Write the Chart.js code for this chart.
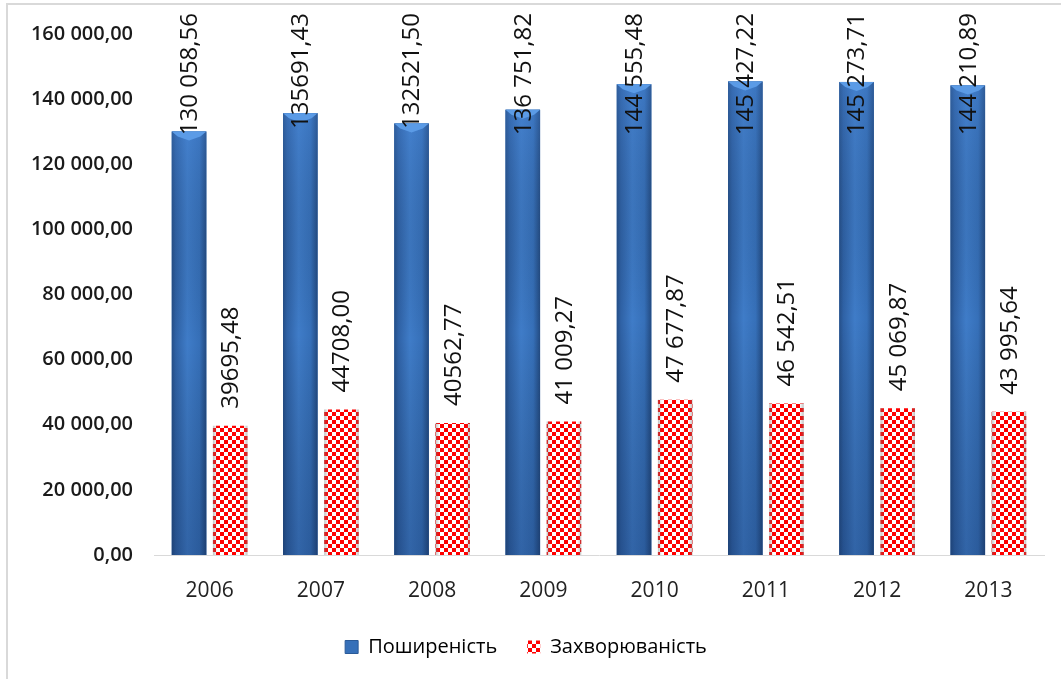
<!DOCTYPE html>
<html>
<head>
<meta charset="utf-8">
<script src="https://cdn.jsdelivr.net/npm/chart.js@4/dist/chart.umd.min.js"></script>
<style>
    html, body { margin: 0; padding: 0; background: #fff; }
    #wrap { width: 1061px; height: 679px; position: relative; }
</style>
</head>
<body>
<div id="wrap"><canvas id="chart"></canvas></div>
<script>
// Data
const years = ['2006', '2007', '2008', '2009', '2010', '2011', '2012', '2013'];
const prevalence = [130058.56, 135691.43, 132521.50, 136751.82, 144555.48, 145427.22, 145273.71, 144210.89];
const incidence = [39695.48, 44708.00, 40562.77, 41009.27, 47677.87, 46542.51, 45069.87, 43995.64];
const prevalenceLabels = ['130 058,56', '135691,43', '132521,50', '136 751,82', '144 555,48', '145 427,22', '145 273,71', '144 210,89'];
const incidenceLabels = ['39695,48', '44708,00', '40562,77', '41 009,27', '47 677,87', '46 542,51', '45 069,87', '43 995,64'];
const yTickValues = [0, 20000, 40000, 60000, 80000, 100000, 120000, 140000, 160000];
const yTickLabels = ['0,00', '20 000,00', '40 000,00', '60 000,00', '80 000,00', '100 000,00', '120 000,00', '140 000,00', '160 000,00'];
const seriesNames = ['Поширеність', 'Захворюваність'];

const FONT = "'Open Sans', sans-serif";

// red / white checkerboard used for the second series
function makeChecker() {
    const c = document.createElement('canvas');
    c.width = 8; c.height = 8;
    const g = c.getContext('2d');
    g.fillStyle = '#ffffff';
    g.fillRect(0, 0, 8, 8);
    g.fillStyle = '#ff0000';
    g.fillRect(0, 0, 4, 4);
    g.fillRect(4, 4, 4, 4);
    return g.createPattern(c, 'repeat');
}
const checker = makeChecker();

// frame lines (left + top) like the cropped chart border
const framePlugin = {
    id: 'frame',
    beforeDraw(chart) {
        const ctx = chart.ctx;
        ctx.save();
        ctx.fillStyle = '#d9d9d9';
        ctx.fillRect(6, 3, 2, chart.height);
        ctx.fillRect(6, 3, chart.width, 2);
        ctx.restore();
    }
};

// 3D-ish shading on top of the plain bars
const shadePlugin = {
    id: 'shade',
    afterDatasetDraw(chart, args) {
        const ctx = chart.ctx;
        const meta = args.meta;
        ctx.save();
        meta.data.forEach(bar => {
            const w = bar.width, l = bar.x - w / 2, r = bar.x + w / 2;
            const top = bar.y, bot = bar.base;
            if (args.index === 0) {
                const hg = ctx.createLinearGradient(l, 0, r, 0);
                hg.addColorStop(0, '#254f88');
                hg.addColorStop(0.12, '#2f62a6');
                hg.addColorStop(0.45, '#3f7cc8');
                hg.addColorStop(0.8, '#3670b9');
                hg.addColorStop(1, '#234b82');
                ctx.fillStyle = hg;
                ctx.fillRect(l, top, w, bot - top);
                const vg = ctx.createLinearGradient(0, top, 0, bot);
                vg.addColorStop(0, 'rgba(80,140,220,0.25)');
                vg.addColorStop(0.5, 'rgba(0,0,0,0)');
                vg.addColorStop(1, 'rgba(10,30,70,0.25)');
                ctx.fillStyle = vg;
                ctx.fillRect(l, top, w, bot - top);
                // bevel at the top
                ctx.fillStyle = '#5b9be6';
                ctx.beginPath();
                ctx.moveTo(l, top);
                ctx.lineTo(r, top);
                ctx.lineTo(r - 6, top + 5);
                ctx.lineTo(bar.x, top + 9);
                ctx.lineTo(l + 6, top + 5);
                ctx.closePath();
                ctx.fill();
            } else {
                const eg = ctx.createLinearGradient(l, 0, r, 0);
                eg.addColorStop(0, 'rgba(120,120,120,0.45)');
                eg.addColorStop(0.12, 'rgba(120,120,120,0)');
                eg.addColorStop(0.88, 'rgba(120,120,120,0)');
                eg.addColorStop(1, 'rgba(120,120,120,0.45)');
                ctx.fillStyle = eg;
                ctx.fillRect(l, top, w, bot - top);
            }
        });
        ctx.restore();
    }
};

// vertical value labels above the bars, kept inside the top of the frame
const valueLabelPlugin = {
    id: 'valueLabels',
    afterDatasetsDraw(chart) {
        const ctx = chart.ctx;
        const texts = [prevalenceLabels, incidenceLabels];
        ctx.save();
        ctx.font = '24px ' + FONT;
        ctx.fillStyle = '#111';
        ctx.textAlign = 'left';
        ctx.textBaseline = 'middle';
        chart.data.datasets.forEach((ds, i) => {
            chart.getDatasetMeta(i).data.forEach((bar, j) => {
                const t = texts[i][j];
                const tw = ctx.measureText(t).width;
                let bottom = bar.y - 17;
                if (bottom - tw < 13) bottom = 13 + tw;
                ctx.save();
                ctx.translate(bar.x + 1, bottom);
                ctx.rotate(-Math.PI / 2);
                ctx.fillText(t, 0, 0);
                ctx.restore();
            });
        });
        ctx.restore();
    }
};

new Chart(document.getElementById('chart'), {
    type: 'bar',
    data: {
        labels: years,
        datasets: [
            { label: seriesNames[0], data: prevalence, backgroundColor: '#3670b9', borderWidth: 0 },
            { label: seriesNames[1], data: incidence, backgroundColor: checker, borderWidth: 0 }
        ]
    },
    options: {
        responsive: true,
        maintainAspectRatio: false,
        animation: false,
        categoryPercentage: 0.74,
        barPercentage: 0.84,
        layout: { padding: { left: 8, right: 17, top: 34, bottom: 12 } },
        plugins: {
            tooltip: { enabled: false },
            legend: {
                position: 'bottom',
                labels: {
                    font: { family: FONT, size: 20 },
                    color: '#000',
                    boxWidth: 13,
                    boxHeight: 13,
                    padding: 30,
                    generateLabels: () => [
                        { text: seriesNames[0], fillStyle: '#3670b9', strokeStyle: '#2a5a98', lineWidth: 1, datasetIndex: 0, hidden: false },
                        { text: seriesNames[1], fillStyle: checker, strokeStyle: '#ffffff', lineWidth: 0, datasetIndex: 1, hidden: false }
                    ]
                }
            }
        },
        scales: {
            x: {
                grid: { display: false, drawTicks: false },
                border: { display: true, color: '#d9d9d9', width: 1 },
                ticks: { font: { family: FONT, size: 21 }, color: '#222', padding: 23 },
                afterFit(axis) { axis.height = 52; }
            },
            y: {
                min: 0,
                max: 160000,
                grid: { display: false, drawTicks: false },
                border: { display: false },
                afterBuildTicks(axis) { axis.ticks = yTickValues.map(v => ({ value: v })); },
                ticks: {
                    font: { family: FONT, size: 20, weight: '600' },
                    color: '#1a1a1a',
                    padding: 21,
                    callback: (v) => yTickLabels[yTickValues.indexOf(v)]
                },
                afterFit(axis) { axis.width = 146; }
            }
        }
    },
    plugins: [framePlugin, shadePlugin, valueLabelPlugin]
});
</script>
</body>
</html>
